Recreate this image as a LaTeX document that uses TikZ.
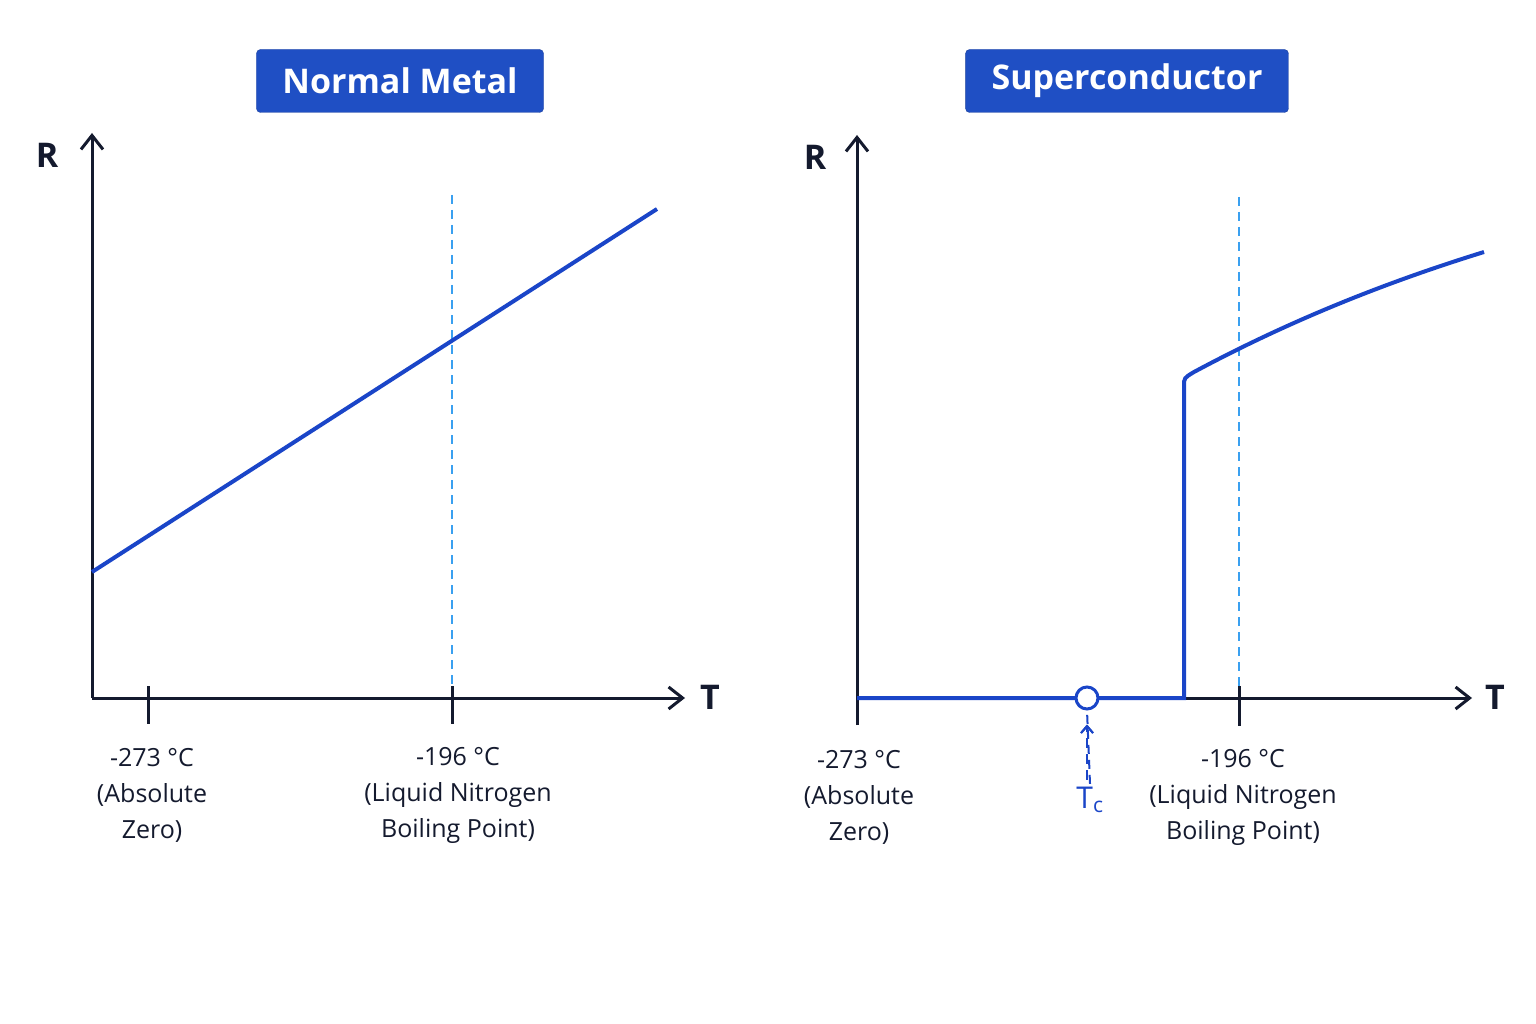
\documentclass[tikz,border=0pt]{standalone}
\usepackage{fontspec}
\setmainfont{Open Sans}
\usetikzlibrary{positioning,arrows.meta,calc}
\definecolor{axisc}{HTML}{141A2E}
\definecolor{curvec}{HTML}{1A45C8}
\definecolor{boxc}{HTML}{1F4FC4}
\definecolor{dashc}{HTML}{3AA0F0}
\tikzset{
    x=1pt,
    y=-1pt,
    axis/.style = {
        draw=axisc,
        line width=3pt,
        -{Straight Barb[length=14pt,width=22pt,line width=3pt]}
    },
    tick/.style = {
        draw=axisc,
        line width=3pt
    },
    curve/.style = {
        draw=curvec,
        line width=4pt
    },
    guide/.style = {
        draw=dashc,
        line width=2pt,
        dash pattern=on 9pt off 6pt
    },
    title/.style = {
        fill=boxc,
        draw=boxc!80!black,
        rounded corners=4pt,
        text=white,
        font=\fontsize{34}{40}\selectfont\bfseries,
        minimum height=63pt,
        inner xsep=26pt
    },
    lbl/.style = {
        text=axisc,
        font=\fontsize{25}{36}\selectfont,
        align=center
    },
    axlbl/.style = {
        text=axisc,
        font=\fontsize{34}{40}\selectfont\bfseries
    },
}

\begin{document}
\begin{tikzpicture}
    \useasboundingbox[fill=white] (0,0) rectangle (1536,1024);

    % normal metal
    \node[title] (titleA) at (400,81) {Normal Metal};
    \coordinate (oA) at (92,698);
    \coordinate (yA) at (92,133);
    \coordinate (xA) at (685,698);
    \draw[guide] (452,195) -- (452,698);
    \draw[axis] (oA) -- (yA);
    \draw[axis] (oA) -- (xA);
    \node[axlbl] (rA) at (47,155) {R};
    \node[axlbl] (tA) at (710,697) {T};
    \draw[tick] (148,686) -- (148,724);
    \draw[tick] (452,686) -- (452,724);
    \draw[curve] (92,572) -- (657,209);
    \node[lbl] (zeroA) at (152,795) {-273 °C\\(Absolute\\Zero)};
    \node[lbl] (nitroA) at (458,795) {-196 °C\\(Liquid Nitrogen\\Boiling Point)};

    % superconductor
    \node[title] (titleB) at (1127,81) {Superconductor};
    \coordinate (oB) at (857,698);
    \coordinate (yB) at (857,135);
    \coordinate (xB) at (1472,698);
    \draw[guide] (1239,197) -- (1239,698);
    \draw[axis] (857,725) -- (yB);
    \draw[axis] (oB) -- (xB);
    \node[axlbl] (rB) at (815,157) {R};
    \node[axlbl] (tB) at (1495,697) {T};
    \draw[tick] (1239,686) -- (1239,726);
    \draw[curve] (oB) -- (1184,698) -- (1184,386)
        .. controls (1184,378) .. (1194,372)
        .. controls (1300,315) and (1400,278) .. (1484,252);
    \node[circle, draw=curvec, fill=white, line width=3pt,
        minimum size=22pt, inner sep=0pt] (tcdot) at (1087,698) {};
    \node[lbl] (zeroB) at (859,797) {-273 °C\\(Absolute\\Zero)};
    \node[lbl] (nitroB) at (1243,797) {-196 °C\\(Liquid Nitrogen\\Boiling Point)};
    \node[text=curvec, font=\fontsize{30}{36}\selectfont] (tc) at (1090,800) {T\textsubscript{c}};
    \draw[curvec, line width=2pt, dash pattern=on 9pt off 6pt,
        -{Straight Barb[length=7pt,width=12pt,line width=2pt]}]
        (tc.north) -- (tcdot.south) ++(0,14);
    \draw[curvec, line width=2pt, dash pattern=on 10pt off 6pt,
        -{Straight Barb[length=7pt,width=12pt,line width=2pt]}]
        ($(tc.north)+(-3,-4)$) -- ($(tcdot.south)+(0,14)$);
\end{tikzpicture}
\end{document}
